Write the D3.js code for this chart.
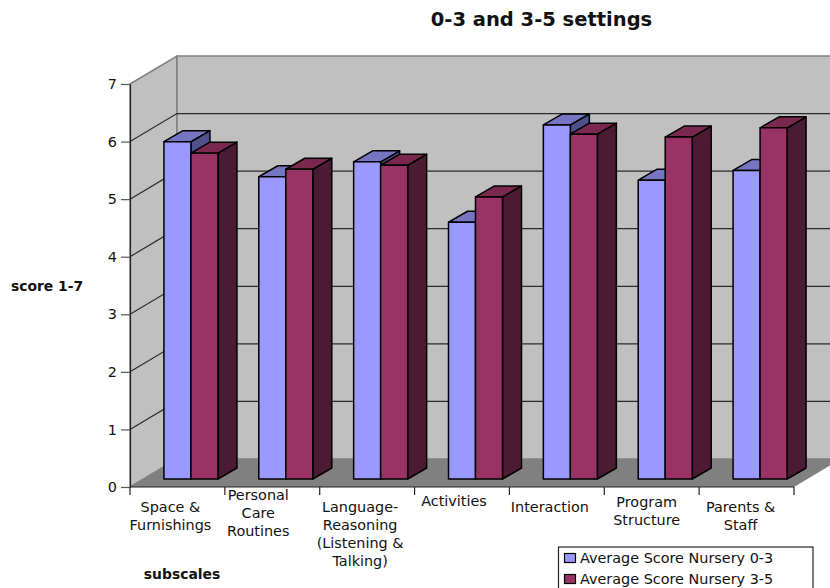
<!DOCTYPE html>
<html>
<head>
<meta charset="utf-8">
<script src="https://cdn.jsdelivr.net/npm/d3@7"></script>
<style>
html,body{margin:0;padding:0;background:#fff;overflow:hidden}
svg{display:block}
text{font-family:"DejaVu Sans",Verdana,sans-serif;fill:#111}
</style>
</head>
<body>
<svg id="chart" width="830" height="588"></svg>
<script>
const categories = ["Space & Furnishings","Personal Care Routines","Language-Reasoning (Listening & Talking)","Activities","Interaction","Program Structure","Parents & Staff"];
const categoryLines = [
  ["Space &","Furnishings"],
  ["Personal","Care","Routines"],
  ["Language-","Reasoning","(Listening &","Talking)"],
  ["Activities"],
  ["Interaction"],
  ["Program","Structure"],
  ["Parents &","Staff"]
];
const nursery03 = [5.86,5.25,5.51,4.46,6.15,5.19,5.36];
const nursery35 = [5.66,5.38,5.45,4.90,5.99,5.94,6.10];
const seriesNames = ["Average Score Nursery 0-3","Average Score Nursery 3-5"];
const yTicks = [0,1,2,3,4,5,6,7];
const titleText = "0-3 and 3-5 settings";
const yTitle = "score 1-7";
const xTitle = "subscales";

// pseudo-3D box: depth of the chart room and of each bar
const roomDx = 47, roomDy = 28;
const barDx = 19, barDy = 11;
const barInsetX = 13.5, barInsetY = 8;

const svg = d3.select("#chart");
const x = d3.scaleBand().domain(categories).range([130,794]).paddingInner(0).paddingOuter(0);
const y = d3.scaleLinear().domain([0,7]).range([487,84]);
const xSeries = d3.scaleBand().domain([0,1]).range([-27,27]);

const poly = pts => pts.map(p=>p.join(",")).join(" ");
const [x0,x1] = x.range();
const yBase = y(0), yTop = y(7);

// room: side wall, back wall, floor
svg.append("polygon").attr("points",poly([[x0,yTop],[x0+roomDx,yTop-roomDy],[x0+roomDx,yBase-roomDy],[x0,yBase]]))
  .attr("fill","#c0c0c0").attr("stroke","#808080").attr("stroke-width",1.5);
svg.append("polygon").attr("points",poly([[x0+roomDx,yTop-roomDy],[x1+roomDx,yTop-roomDy],[x1+roomDx,yBase-roomDy],[x0+roomDx,yBase-roomDy]]))
  .attr("fill","#c0c0c0").attr("stroke","#808080").attr("stroke-width",1.5);
svg.append("polygon").attr("points",poly([[x0,yBase],[x0+roomDx,yBase-roomDy],[x1+roomDx,yBase-roomDy],[x1,yBase]]))
  .attr("fill","#808080");

// gridlines on the side and back walls
const grid = svg.append("g").attr("fill","none").attr("stroke","#2b2b2b").attr("stroke-width",1.2);
yTicks.filter(t=>t>0&&t<7).forEach(t=>{
  grid.append("polyline").attr("points",poly([[x0,y(t)],[x0+roomDx,y(t)-roomDy],[x1+roomDx,y(t)-roomDy]]));
});

// bars
const faces = [
  {front:"#9999ff",top:"#7575c2",side:"#50508a"},
  {front:"#993366",top:"#7a2850",side:"#4d1a33"}
];
const barG = svg.append("g").attr("stroke","#000").attr("stroke-width",1.5).attr("stroke-linejoin","round");
categories.forEach((c,i)=>{
  [nursery03,nursery35].forEach((values,s)=>{
    const l = x(c)+x.bandwidth()/2+barInsetX+xSeries(s);
    const r = l+xSeries.bandwidth();
    const b = yBase-barInsetY;
    const t = b-(yBase-y(values[i]));
    barG.append("polygon").attr("fill",faces[s].side)
      .attr("points",poly([[r,t],[r+barDx,t-barDy],[r+barDx,b-barDy],[r,b]]));
    barG.append("polygon").attr("fill",faces[s].top)
      .attr("points",poly([[l,t],[l+barDx,t-barDy],[r+barDx,t-barDy],[r,t]]));
    barG.append("rect").attr("fill",faces[s].front)
      .attr("x",l).attr("y",t).attr("width",r-l).attr("height",b-t);
  });
});

// value axis
const yAxis = d3.axisLeft(y).tickValues(yTicks).tickFormat(d3.format("d")).tickSize(9).tickSizeOuter(0).tickPadding(4);
const yG = svg.append("g").attr("transform",`translate(${x0},0)`).call(yAxis);
yG.select("path").attr("stroke","#222").attr("stroke-width",1.2);
yG.selectAll("line").attr("stroke","#555").attr("stroke-width",1.2);
yG.selectAll("text").attr("font-size",14.4).attr("font-family",'"DejaVu Sans",Verdana,sans-serif');

// category axis with ticks at the band edges
const edgeTicks = d3.range(categories.length+1).map(i=>x0+i*x.bandwidth());
const xG = svg.append("g").attr("stroke","#222").attr("stroke-width",1.2);
xG.append("line").attr("x1",x0).attr("x2",x1).attr("y1",yBase).attr("y2",yBase);
xG.selectAll("line.t").data(edgeTicks).join("line").attr("class","t")
  .attr("x1",d=>d).attr("x2",d=>d).attr("y1",yBase).attr("y2",yBase+8);

// wrapped category labels, each block placed where it fits below the axis
const labelShift = [-7,-14,-7,-8,-7,-5,-6];
const labelFirstBaseline = [512,500,512,506,512,507,512];
const lineHeight = 18;
categories.forEach((c,i)=>{
  const t = svg.append("text").attr("text-anchor","middle").attr("font-size",14.4)
    .attr("y",labelFirstBaseline[i]);
  categoryLines[i].forEach((ln,k)=>{
    t.append("tspan").attr("x",x(c)+x.bandwidth()/2+labelShift[i]).attr("y",labelFirstBaseline[i]+k*lineHeight).text(ln);
  });
});

// titles
svg.append("text").attr("x",541.5).attr("y",26).attr("text-anchor","middle")
  .attr("font-size",19.5).attr("font-weight","bold").text(titleText);
svg.append("text").attr("x",47).attr("y",291).attr("text-anchor","middle")
  .attr("font-size",13.9).attr("font-weight","bold").text(yTitle);
svg.append("text").attr("x",182).attr("y",579).attr("text-anchor","middle")
  .attr("font-size",13.9).attr("font-weight","bold").text(xTitle);

// legend
const legend = svg.append("g");
legend.append("rect").attr("x",558.5).attr("y",547).attr("width",254.5).attr("height",60)
  .attr("fill","#fff").attr("stroke","#222").attr("stroke-width",1.2);
seriesNames.forEach((name,i)=>{
  const ly = 558+i*21;
  legend.append("rect").attr("x",564.5).attr("y",ly-4.5).attr("width",11).attr("height",9)
    .attr("fill",faces[i].front).attr("stroke","#000").attr("stroke-width",1.2);
  legend.append("text").attr("x",580).attr("y",ly+5).attr("font-size",14.4).text(name);
});
</script>
</body>
</html>
